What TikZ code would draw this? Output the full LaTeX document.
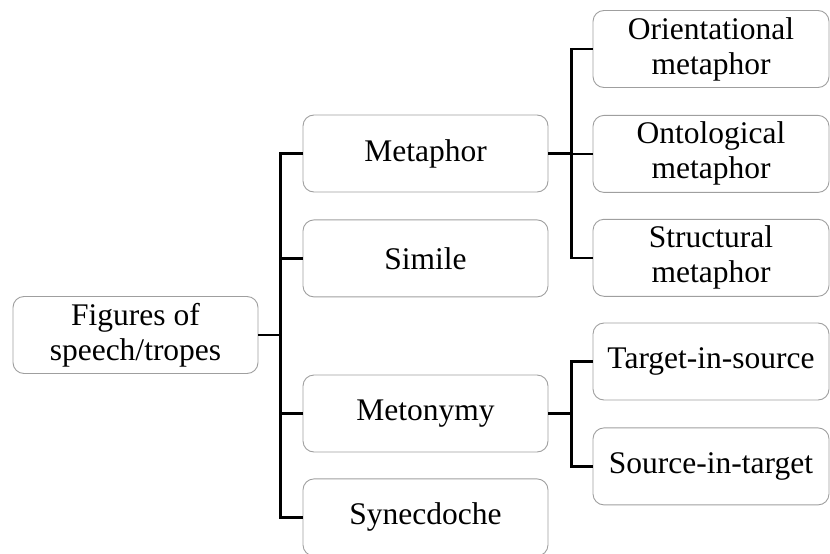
\documentclass[tikz,border=0pt]{standalone}
\usepackage{fontspec}
\setmainfont{Liberation Serif}
\usetikzlibrary{positioning}

\begin{document}
\begin{tikzpicture}[
    x=1pt, y=1pt,
    node distance=26pt and 45pt,
    mybox/.style={draw=gray!75, line width=0.9pt, rounded corners=11pt, align=center,
        minimum width=245pt, minimum height=77pt, inner sep=0pt,
        font=\fontsize{31.5}{35}\selectfont},
    mysubbox/.style={mybox, minimum width=236pt},
    mybranch/.style={line width=2.4pt, black},
]

\useasboundingbox (0,0) rectangle (830,-554);

% Nodes
\node[mybox] (root) at (135.5,-335) {Figures of\\speech/tropes};

\node[mybox] (metaphor) at (425.5,-153.5) {Metaphor};
\node[mybox, below=27pt of metaphor] (simile) {Simile};
\node[mybox] (metonymy) at (425.5,-413.5) {Metonymy};
\node[mybox, below=26pt of metonymy] (synecdoche) {Synecdoche};

% metaphor types
\node[mysubbox] (orient) at (711,-49) {Orientational\\metaphor};
\node[mysubbox, below=27pt of orient] (onto) {Ontological\\metaphor};
\node[mysubbox, below=26pt of onto] (struct) {Structural\\metaphor};

% metonymy types
\node[mysubbox] (target) at (711,-361.5) {Target-in-source};
\node[mysubbox, below=27pt of target] (source) {Source-in-target};

% Branches
\draw[mybranch] (root.east) -- ++(22,0) coordinate (rootbus);
\foreach \n in {metaphor, simile, metonymy, synecdoche}
    \draw[mybranch] (rootbus) |- (\n.west);

\draw[mybranch] (metaphor.east) -- ++(23,0) coordinate (metabus);
\foreach \n in {orient, onto, struct}
    \draw[mybranch] (metabus) |- (\n.west);

\draw[mybranch] (metonymy.east) -- ++(23,0) coordinate (metobus);
\foreach \n in {target, source}
    \draw[mybranch] (metobus) |- (\n.west);

\end{tikzpicture}
\end{document}
